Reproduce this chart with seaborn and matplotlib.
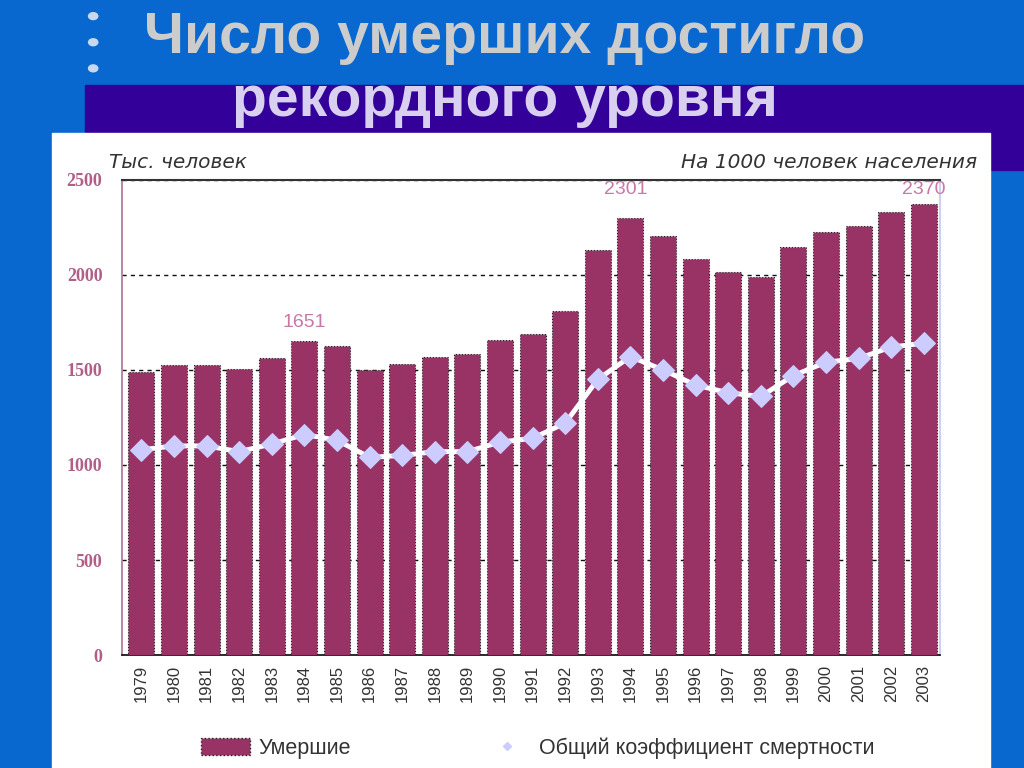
import matplotlib.pyplot as plt
import matplotlib.patches as mpatches
from matplotlib.lines import Line2D
import numpy as np
import pandas as pd
import seaborn as sns

# Данные
years = [str(y) for y in range(1979, 2004)]
deaths = [1490, 1526, 1524, 1504, 1563, 1651, 1625, 1498, 1531, 1569, 1583,
          1656, 1690, 1807, 2129, 2301, 2204, 2082, 2015, 1988, 2144, 2225,
          2255, 2332, 2370]
rate = [10.8, 11.0, 11.0, 10.7, 11.1, 11.6, 11.3, 10.4, 10.5, 10.7, 10.7,
        11.2, 11.4, 12.2, 14.5, 15.7, 15.0, 14.2, 13.8, 13.6, 14.7, 15.4,
        15.6, 16.2, 16.4]
highlight = {"1984": "1651", "1994": "2301", "2003": "2370"}

BLUE = "#0868CF"
BAND = "#330099"
BAR = "#993366"
PINK = "#C878A8"

sns.set_theme(style="white")
plt.rcParams["font.family"] = ["Liberation Sans", "DejaVu Sans"]

fig = plt.figure(figsize=(10.24, 7.68), dpi=100)
fig.patch.set_facecolor(BLUE)

# фон слайда
fig.add_artist(mpatches.Rectangle((0.083, 0.779), 0.917, 0.110,
                                  transform=fig.transFigure, color=BAND, zorder=0))
fig.add_artist(mpatches.Rectangle((0.051, 0.0), 0.916, 0.827,
                                  transform=fig.transFigure, color="white", zorder=0))
for yy in [0.979, 0.945, 0.911]:
    fig.add_artist(mpatches.Circle((0.091, yy), 0.0045, transform=fig.transFigure,
                                   color="#C8D8EE", zorder=1))

fig.text(0.493, 0.950, "Число умерших достигло", ha="center", va="center",
         fontsize=41, fontweight="bold", color="#CCCCCC")
fig.text(0.493, 0.869, "рекордного уровня", ha="center", va="center",
         fontsize=41, fontweight="bold", color="#D8D0EE")

ax = fig.add_axes([0.119, 0.147, 0.799, 0.619])
ax.set_facecolor("white")
df = pd.DataFrame({"Год": years, "Умершие": deaths, "Коэф": rate})

sns.barplot(data=df, x="Год", y="Умершие", color=BAR, saturation=1, width=0.8,
            edgecolor="#222222", linewidth=0.8, linestyle=":", ax=ax, zorder=3)
ax.set_ylim(0, 2500)
ax.set_xlim(-0.6, 24.5)
ax.set_yticks([0, 500, 1000, 1500, 2000, 2500])
ax.yaxis.grid(True, linestyle=(0, (3, 3)), color="#111111", linewidth=1)
ax.set_axisbelow(True)
ax.set_xlabel("")
ax.set_ylabel("")
ax.spines["left"].set_color("#B07898")
ax.spines["right"].set_color("#C8C8F0")
ax.spines["bottom"].set_color("#111111")
ax.spines["top"].set_color("#333333")
ax.spines["top"].set_linewidth(1.5)
ax.tick_params(axis="y", length=0, pad=14, labelcolor="#B06088")
ax.tick_params(axis="x", length=0, pad=7, labelcolor="#333333")
for lab in ax.get_yticklabels():
    lab.set_fontfamily("Liberation Serif")
    lab.set_fontweight("bold")
    lab.set_fontsize(13)
for lab in ax.get_xticklabels():
    lab.set_rotation(90)
    lab.set_fontsize(12)

for i, y in enumerate(years):
    if y in highlight:
        ax.text(i - (0.15 if y == "1994" else 0), deaths[i] + 55 if y == "1984" else 2405,
                highlight[y], ha="center", va="bottom", fontsize=14, color=PINK, zorder=5)

ax2 = ax.twinx()
sns.lineplot(x=np.arange(len(years)), y=rate, ax=ax2, color="white", linewidth=3.5,
             marker="D", markersize=11, markerfacecolor="#CCCCFF",
             markeredgecolor="#CCCCFF", zorder=4)
ax2.set_ylim(0, 25)
ax2.set_yticks([])
ax2.set_ylabel("")
for s in ax2.spines.values():
    s.set_visible(False)

fig.text(0.106, 0.789, "Тыс. человек", fontsize=14.5, style="italic",
         family="DejaVu Sans", color="#333333", ha="left", va="center")
fig.text(0.954, 0.789, "На 1000 человек населения", fontsize=14.5, style="italic",
         family="DejaVu Sans", color="#333333", ha="right", va="center")

handles = [mpatches.Patch(facecolor=BAR, edgecolor="#222222", linestyle=":"),
           Line2D([], [], linestyle="none", marker="D", markersize=4,
                  color="#CCCCFF")]
fig.legend(handles, ["Умершие", "Общий коэффициент смертности"],
           loc="center", bbox_to_anchor=(0.525, 0.026), ncol=2, frameon=False,
           fontsize=15.5, handlelength=2.3, handleheight=0.8, columnspacing=6.1,
           handletextpad=0.35, labelcolor="#333333")

plt.savefig("out.png", dpi=100, facecolor=fig.get_facecolor())
